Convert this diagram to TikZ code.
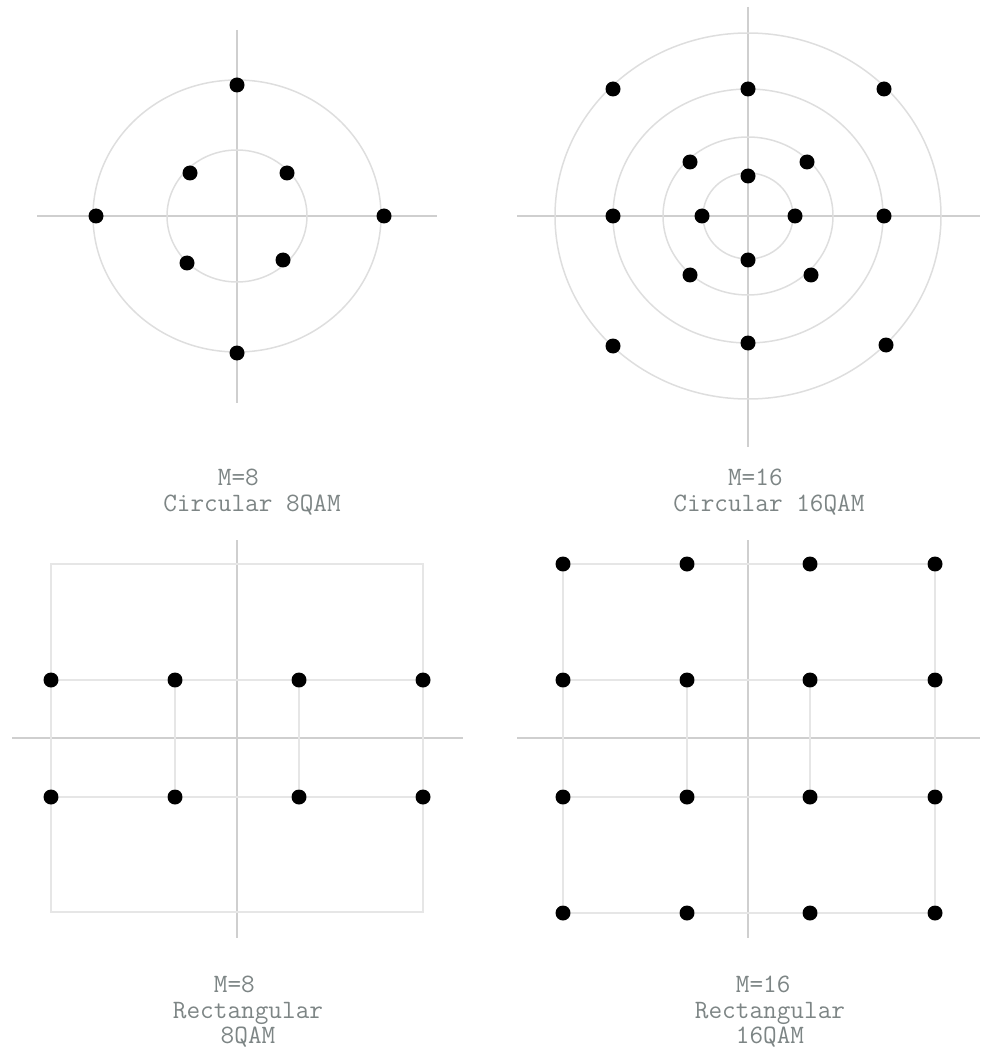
\documentclass[tikz,border=0pt]{standalone}
\usepackage{fontspec}
\definecolor{ax}{HTML}{CFCFCF}
\definecolor{rg}{HTML}{DEDEDE}
\definecolor{gr}{HTML}{E6E6E6}
\definecolor{lbl}{HTML}{7D8585}
\tikzset{
  dot/.style={circle,fill=black,inner sep=0pt,minimum size=15pt},
  axis/.style={draw=ax,line width=1.3pt},
  ring/.style={draw=rg,line width=1.5pt},
  grid/.style={draw=gr,line width=1.5pt},
  lab/.style={text=lbl,align=center,font=\ttfamily\fontsize{26.5}{25.5}\selectfont},
}
\begin{document}
\begin{tikzpicture}[x=1pt,y=-1pt]
  \useasboundingbox (0,0) rectangle (980,1056);
  % circular 8QAM
  \draw[axis] (237,30) -- (237,403);
  \draw[axis] (37,216) -- (437,216);
  \draw[ring] (237,216) ellipse [x radius=144, y radius=136];
  \draw[ring] (237,216) ellipse [x radius=70, y radius=66];
  \foreach \n/\x/\y in {a/237/85, b/384/216, c/237/353, d/96/216,
                        e/190/173, f/287/173, g/187/263, h/283/260}
    \node[dot] (c8\n) at (\x,\y) {};
  \node[lab] (c8lab) at (252,492) {M=8\phantom{00}\\Circular 8QAM};
  % circular 16QAM
  \draw[axis] (748,7) -- (748,447);
  \draw[axis] (517,216) -- (980,216);
  \foreach \rx/\ry in {193/183, 135/127, 85/79, 45/43}
    \draw[ring] (748,216) ellipse [x radius=\rx, y radius=\ry];
  \foreach \n/\x/\y in {a/613/89, b/748/89, c/884/89, d/690/162, e/807/162,
                        f/748/176, g/613/216, h/702/216, i/795/216, j/884/216,
                        k/748/260, l/690/275, m/811/275, n/613/346, o/748/343, p/886/345}
    \node[dot] (c16\n) at (\x,\y) {};
  \node[lab] (c16lab) at (769,492) {M=16\phantom{00}\\Circular 16QAM};
  % rectangular 8QAM
  \draw[axis] (237,540) -- (237,938);
  \draw[axis] (12,738) -- (463,738);
  \draw[grid] (51,564) rectangle (423,912);
  \foreach \x [count=\i] in {51,175,299,423}
    \foreach \y [count=\j] in {680,797}
      \node[dot] (r8-\i-\j) at (\x,\y) {};
  \foreach \j in {1,2}
    \draw[grid] (r8-1-\j) -- (r8-2-\j) -- (r8-3-\j) -- (r8-4-\j);
  \draw[grid] (r8-2-1) -- (r8-2-2);
  \draw[grid] (r8-3-1) -- (r8-3-2);
  \node[lab] (r8lab) at (248,1012) {M=8\phantom{00}\\Rectangular\\8QAM};
  % rectangular 16QAM
  \draw[axis] (748,540) -- (748,938);
  \draw[axis] (517,738) -- (980,738);
  \foreach \x [count=\i] in {563,687,810,935}
    \foreach \y [count=\j] in {564,680,797,913}
      \node[dot] (r16-\i-\j) at (\x,\y) {};
  \foreach \j in {1,...,4}
    \draw[grid] (r16-1-\j) -- (r16-2-\j) -- (r16-3-\j) -- (r16-4-\j);
  \foreach \i in {1,4}
    \draw[grid] (r16-\i-1) -- (r16-\i-2) -- (r16-\i-3) -- (r16-\i-4);
  \draw[grid] (r16-2-2) -- (r16-2-3);
  \draw[grid] (r16-3-2) -- (r16-3-3);
  \node[lab] (r16lab) at (770,1012) {M=16\phantom{0}\\Rectangular\\16QAM};
\end{tikzpicture}
\end{document}
